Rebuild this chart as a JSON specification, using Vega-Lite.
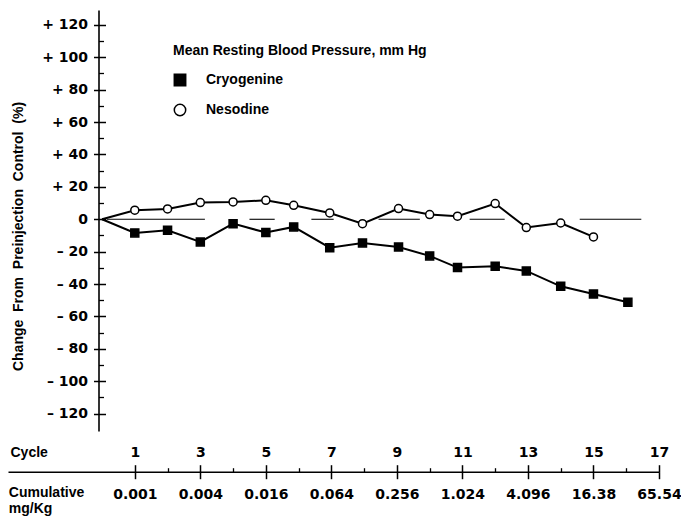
{
  "$schema": "https://vega.github.io/schema/vega-lite/v6.json",
  "width": 651,
  "height": 421,
  "autosize": {"type": "none"},
  "padding": {"left": 8, "top": 10, "right": 22, "bottom": 87},
  "background": "white",
  "config": {
    "view": {"stroke": null},
    "axis": {"grid": false, "domainColor": "black", "tickColor": "black", "labelColor": "black", "titleColor": "black"}
  },
  "datasets": {
    "bp": [
      {"cycle": 0, "series": "Cryogenine", "value": 0},
      {"cycle": 1, "series": "Cryogenine", "value": -8.4},
      {"cycle": 2, "series": "Cryogenine", "value": -6.8},
      {"cycle": 3, "series": "Cryogenine", "value": -14},
      {"cycle": 4, "series": "Cryogenine", "value": -2.7},
      {"cycle": 5, "series": "Cryogenine", "value": -8.2},
      {"cycle": 5.85, "series": "Cryogenine", "value": -4.7},
      {"cycle": 6.95, "series": "Cryogenine", "value": -17.5},
      {"cycle": 7.95, "series": "Cryogenine", "value": -14.6},
      {"cycle": 9.05, "series": "Cryogenine", "value": -17.1},
      {"cycle": 10, "series": "Cryogenine", "value": -22.6},
      {"cycle": 10.85, "series": "Cryogenine", "value": -29.8},
      {"cycle": 12, "series": "Cryogenine", "value": -29},
      {"cycle": 12.95, "series": "Cryogenine", "value": -31.9},
      {"cycle": 14, "series": "Cryogenine", "value": -41.4},
      {"cycle": 15, "series": "Cryogenine", "value": -46.1},
      {"cycle": 16.05, "series": "Cryogenine", "value": -51.2},
      {"cycle": 0, "series": "Nesodine", "value": 0},
      {"cycle": 1, "series": "Nesodine", "value": 5.6},
      {"cycle": 2, "series": "Nesodine", "value": 6.4},
      {"cycle": 3, "series": "Nesodine", "value": 10.3},
      {"cycle": 4, "series": "Nesodine", "value": 10.7},
      {"cycle": 5, "series": "Nesodine", "value": 11.7},
      {"cycle": 5.85, "series": "Nesodine", "value": 8.6},
      {"cycle": 6.95, "series": "Nesodine", "value": 3.9},
      {"cycle": 7.95, "series": "Nesodine", "value": -2.7},
      {"cycle": 9.05, "series": "Nesodine", "value": 6.6},
      {"cycle": 10, "series": "Nesodine", "value": 2.9},
      {"cycle": 10.85, "series": "Nesodine", "value": 1.9},
      {"cycle": 12, "series": "Nesodine", "value": 9.7},
      {"cycle": 12.95, "series": "Nesodine", "value": -5.1},
      {"cycle": 14, "series": "Nesodine", "value": -2.3},
      {"cycle": 15, "series": "Nesodine", "value": -10.9}
    ],
    "zero": [
      {"x1": 0.14, "x2": 3.14},
      {"x1": 4.5, "x2": 5.27},
      {"x1": 6.39, "x2": 7.07},
      {"x1": 8.44, "x2": 9.7},
      {"x1": 11.22, "x2": 12.29},
      {"x1": 14.58, "x2": 16.46}
    ]
  },
  "layer": [
    {
      "data": {"name": "zero"},
      "mark": {"type": "rule", "color": "black", "strokeWidth": 1.1},
      "encoding": {
        "x": {
          "field": "x1", "type": "quantitative",
          "scale": {"domain": [-2.87, 17], "nice": false, "zero": false},
          "axis": {
            "orient": "bottom", "offset": 40.7,
            "values": [1, 3, 5, 7, 9, 11, 13, 15, 17],
            "tickSize": 7, "tickWidth": 1.5, "domainWidth": 1.6,
            "labelExpr": "['0.001','0.004','0.016','0.064','0.256','1.024','4.096','16.38','65.54'][(datum.value-1)/2]",
            "labelFont": "DejaVu Sans", "labelFontSize": 14, "labelFontWeight": "bold",
            "labelPadding": 15.8, "labelBaseline": "middle", "labelFlush": false, "labelOverlap": false,
            "title": ["Cumulative", "\u00a0\u00a0mg/Kg"],
            "titleX": 0.3, "titleY": 25, "titleAlign": "left", "titleBaseline": "alphabetic",
            "titleLineHeight": 15.5, "titleFont": "Liberation Sans", "titleFontSize": 14, "titleFontWeight": "bold"
          }
        },
        "x2": {"field": "x2"},
        "y": {
          "datum": 0, "type": "quantitative",
          "scale": {"domain": [-130.7, 129.2], "nice": false, "zero": false},
          "axis": {
            "orient": "left", "offset": -90.5,
            "values": [-120, -100, -80, -60, -40, -20, 0, 20, 40, 60, 80, 100, 120],
            "tickSize": 5, "tickWidth": 1.5, "domainWidth": 1.6,
            "labelExpr": "datum.value > 0 ? '+ ' + datum.value : (datum.value < 0 ? '\u2013 ' + abs(datum.value) : '0')",
            "labelFont": "DejaVu Sans", "labelFontSize": 14, "labelFontWeight": "bold", "labelPadding": 6, "labelOverlap": false,
            "title": "Change\u00a0 From\u00a0 Preinjection\u00a0 Control\u00a0 (%)",
            "titleFont": "Liberation Sans", "titleFontSize": 14, "titleFontWeight": "bold",
            "titleX": -80.5, "titleY": 226, "titleAngle": -90, "titleAlign": "center", "titleBaseline": "middle"
          }
        }
      }
    },
    {
      "data": {"name": "bp"},
      "transform": [{"filter": "datum.series == 'Cryogenine'"}],
      "mark": {"type": "line", "color": "black", "strokeWidth": 2},
      "encoding": {
        "x": {
          "field": "cycle", "type": "quantitative",
          "axis": {
            "orient": "bottom", "offset": 40.7,
            "values": [1, 3, 5, 7, 9, 11, 13, 15, 17],
            "tickSize": -7, "tickWidth": 1.5, "domain": false, "labels": false, "title": null
          }
        },
        "y": {
          "field": "value", "type": "quantitative",
          "axis": {
            "orient": "left", "offset": -90.5,
            "values": [-120, -100, -80, -60, -40, -20, 0, 20, 40, 60, 80, 100, 120],
            "tickSize": -7, "tickWidth": 1.5, "domain": false, "labels": false, "title": null
          }
        }
      }
    },
    {
      "data": {"name": "bp"},
      "transform": [{"filter": "datum.series == 'Nesodine'"}],
      "mark": {"type": "line", "color": "black", "strokeWidth": 2},
      "encoding": {
        "x": {
          "field": "cycle", "type": "quantitative",
          "axis": {
            "orient": "bottom", "offset": 40.7,
            "values": [1, 3, 5, 7, 9, 11, 13, 15, 17],
            "ticks": false, "domain": false,
            "labelFont": "DejaVu Sans", "labelFontSize": 14, "labelFontWeight": "bold",
            "labelPadding": -19.7, "labelBaseline": "middle", "labelFlush": false, "labelOverlap": false,
            "title": "Cycle", "titleX": 2, "titleY": -19.7, "titleAlign": "left", "titleBaseline": "middle",
            "titleFont": "Liberation Sans", "titleFontSize": 14, "titleFontWeight": "bold"
          }
        },
        "y": {
          "field": "value", "type": "quantitative",
          "axis": {
            "orient": "left", "offset": -90.5,
            "values": [-110, -90, -70, -50, -30, -10, 10, 30, 50, 70, 90, 110],
            "tickSize": -5, "tickWidth": 1.3, "domain": false, "labels": false, "title": null
          }
        }
      }
    },
    {
      "data": {"name": "bp"},
      "transform": [{"filter": "datum.cycle > 0"}],
      "mark": {"type": "point", "filled": true, "strokeWidth": 1.5, "opacity": 1, "fillOpacity": 1, "strokeOpacity": 1, "size": 64},
      "encoding": {
        "x": {
          "field": "cycle", "type": "quantitative",
          "axis": {
            "orient": "bottom", "offset": 40.7,
            "values": [2, 4, 6, 8, 10, 12, 14, 16],
            "tickSize": -4, "tickWidth": 1.3, "domain": false, "labels": false, "title": null
          }
        },
        "y": {"field": "value", "type": "quantitative", "axis": null},
        "shape": {
          "field": "series", "type": "nominal",
          "scale": {"domain": ["Cryogenine", "Nesodine"], "range": ["square", "circle"]},
          "legend": {
            "orient": "none", "legendX": 165, "legendY": 34, "padding": 0,
            "title": "Mean Resting Blood Pressure, mm Hg",
            "titleFont": "Liberation Sans", "titleFontSize": 14, "titleFontWeight": "bold", "titleLimit": 400,
            "titlePadding": 15,
            "labelFont": "Liberation Sans", "labelFontSize": 14, "labelFontWeight": "bold",
            "symbolSize": 130, "symbolStrokeWidth": 1.5,
            "rowPadding": 12, "labelOffset": 19
          }
        },
        "fill": {
          "field": "series", "type": "nominal",
          "scale": {"domain": ["Cryogenine", "Nesodine"], "range": ["black", "white"]},
          "legend": {
            "orient": "none", "legendX": 165, "legendY": 34, "padding": 0,
            "title": "Mean Resting Blood Pressure, mm Hg",
            "titleFont": "Liberation Sans", "titleFontSize": 14, "titleFontWeight": "bold", "titleLimit": 400,
            "titlePadding": 15,
            "labelFont": "Liberation Sans", "labelFontSize": 14, "labelFontWeight": "bold",
            "symbolSize": 130, "symbolStrokeWidth": 1.5,
            "rowPadding": 12, "labelOffset": 19
          }
        },
        "stroke": {
          "field": "series", "type": "nominal",
          "scale": {"domain": ["Cryogenine", "Nesodine"], "range": ["black", "black"]},
          "legend": {
            "orient": "none", "legendX": 165, "legendY": 34, "padding": 0,
            "title": "Mean Resting Blood Pressure, mm Hg",
            "titleFont": "Liberation Sans", "titleFontSize": 14, "titleFontWeight": "bold", "titleLimit": 400,
            "titlePadding": 15,
            "labelFont": "Liberation Sans", "labelFontSize": 14, "labelFontWeight": "bold",
            "symbolSize": 130, "symbolStrokeWidth": 1.5,
            "rowPadding": 12, "labelOffset": 19
          }
        }
      }
    }
  ],
  "resolve": {"axis": {"x": "independent", "y": "independent"}}
}
